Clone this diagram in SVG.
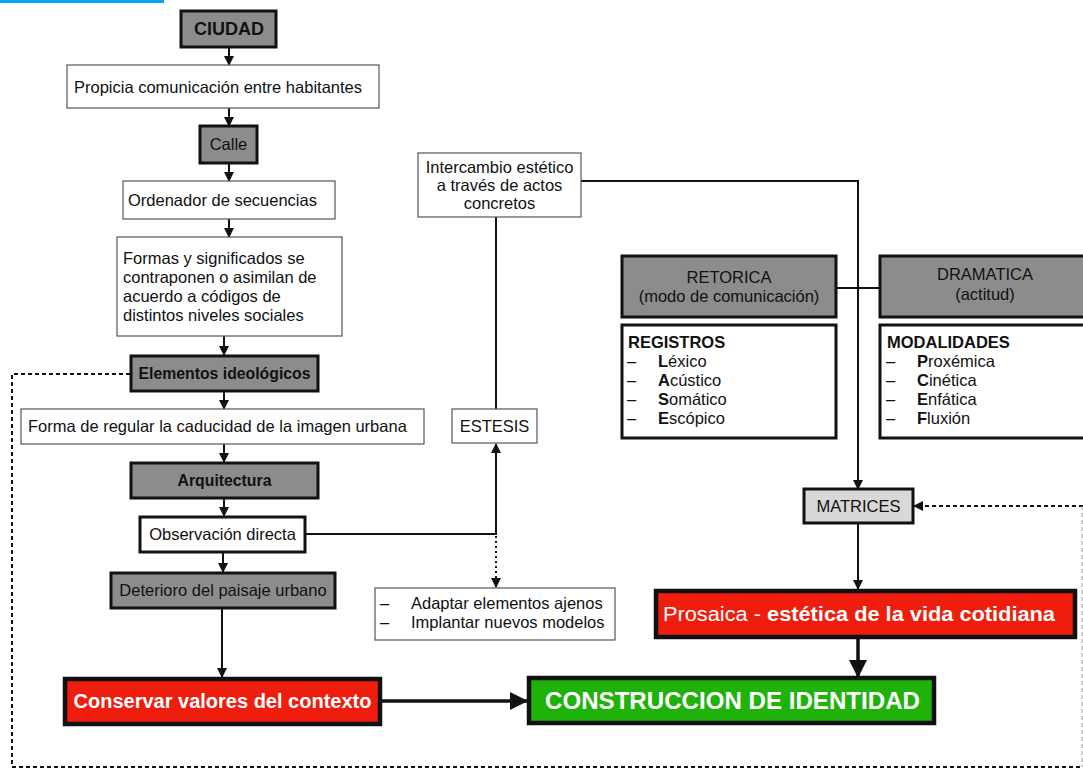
<svg xmlns="http://www.w3.org/2000/svg" width="1083" height="769" viewBox="0 0 1083 769">
<style>
text{font-family:"Liberation Sans",Arial,sans-serif;fill:#111}
.t{font-size:16.5px}
.m{font-size:16.5px}
.bl{font-size:15.8px;font-weight:bold}
.b{font-weight:bold}
.c{text-anchor:middle}
.w{fill:#fff}
.thin{fill:#fff;stroke:#555;stroke-width:1.2}
.gray{fill:#8c8c8c;stroke:#111;stroke-width:3}
.wk{fill:#fff;stroke:#111;stroke-width:3}
.red{fill:#ee1d0e;stroke:#111;stroke-width:4.5}
.grn{fill:#1fb20b;stroke:#111;stroke-width:4.5}
.ln{fill:none;stroke:#111;stroke-width:2}
.thk{fill:none;stroke:#111;stroke-width:3.5}
.dash{fill:none;stroke:#111;stroke-width:2;stroke-dasharray:4 3}
.dot{fill:none;stroke:#111;stroke-width:2;stroke-dasharray:2 3}
.lite{fill:none;stroke:#999;stroke-width:1;stroke-dasharray:4 3}
</style>
<defs>
<marker id="a" markerWidth="10" markerHeight="10" refX="9" refY="5" orient="auto" markerUnits="userSpaceOnUse"><path d="M0,0 L10,5 L0,10 Z" fill="#111"/></marker>
<marker id="A" markerWidth="18" markerHeight="18" refX="17" refY="9" orient="auto" markerUnits="userSpaceOnUse"><path d="M0,0 L18,9 L0,18 Z" fill="#111"/></marker>
</defs>
<rect x="0" y="0" width="164" height="3" fill="#0aa2f2"/>
<g id="connectors">
<path class="ln" d="M229,48 V65" marker-end="url(#a)"/>
<path class="ln" d="M229,108 V126" marker-end="url(#a)"/>
<path class="ln" d="M229,163 V181" marker-end="url(#a)"/>
<path class="ln" d="M229,219 V237" marker-end="url(#a)"/>
<path class="ln" d="M224,336 V355" marker-end="url(#a)"/>
<path class="ln" d="M224,391 V409" marker-end="url(#a)"/>
<path class="ln" d="M224,444 V462" marker-end="url(#a)"/>
<path class="ln" d="M224,498 V516" marker-end="url(#a)"/>
<path class="ln" d="M223,552 V572" marker-end="url(#a)"/>
<path class="ln" d="M222,608 V677" marker-end="url(#a)"/>
<path class="ln" d="M305,534 H496 V444" marker-end="url(#a)"/>
<path class="ln" d="M496,217 V409"/>
<path class="dot" d="M496,536 V587" marker-end="url(#a)"/>
<path class="ln" d="M581,181 H858 V489" marker-end="url(#a)"/>
<path class="ln" d="M836,288 H880"/>
<path class="ln" d="M858,523 V589" marker-end="url(#a)"/>
<path class="dash" d="M1083,506 H914" marker-end="url(#a)"/>
<path class="thk" d="M858,638 V677" marker-end="url(#A)"/>
<path class="thk" d="M381,701 H527" marker-end="url(#A)"/>
<path class="dash" d="M130,374 H12 V767 H1083"/>
<path class="lite" d="M1082,506 V767"/>
</g>
<g id="ciudad"><rect class="gray" x="181" y="11" width="95" height="36"/><text class="b c" x="229" y="35" style="font-size:18px">CIUDAD</text></g>
<g id="propicia"><rect class="thin" x="67" y="65" width="312" height="43"/><text class="t" x="74" y="93">Propicia comunicación entre habitantes</text></g>
<g id="calle"><rect class="gray" x="200" y="126" width="57" height="37"/><text class="t c" x="228.5" y="150">Calle</text></g>
<g id="ordenador"><rect class="thin" x="123" y="181" width="212" height="38"/><text class="t" x="128" y="206">Ordenador de secuencias</text></g>
<g id="formas"><rect class="thin" x="117" y="237" width="225" height="99"/><text class="t" x="123" y="264">Formas y significados se</text><text class="t" x="123" y="283">contraponen o asimilan de</text><text class="t" x="123" y="302">acuerdo a códigos de</text><text class="t" x="123" y="321">distintos niveles sociales</text></g>
<g id="elementos"><rect class="gray" x="131" y="356" width="187" height="35"/><text class="bl c" x="224.5" y="379">Elementos ideológicos</text></g>
<g id="forma"><rect class="thin" x="21" y="409" width="403" height="35"/><text class="t" x="28" y="432">Forma de regular la caducidad de la imagen urbana</text></g>
<g id="arquitectura"><rect class="gray" x="131" y="463" width="187" height="35"/><text class="bl c" x="224.5" y="486">Arquitectura</text></g>
<g id="observacion"><rect class="wk" x="140" y="517" width="165" height="35"/><text class="t c" x="222.5" y="540">Observación directa</text></g>
<g id="deterioro"><rect class="gray" x="111" y="573" width="224" height="35"/><text class="t c" x="223" y="596">Deterioro del paisaje urbano</text></g>
<g id="conservar"><rect class="red" x="65" y="679" width="315" height="45"/><text class="b c w" x="222.5" y="708" style="font-size:20px">Conservar valores del contexto</text></g>
<g id="intercambio"><rect class="thin" x="418" y="153" width="163" height="64"/><text class="m c" x="499.5" y="173">Intercambio estético</text><text class="m c" x="499.5" y="191">a través de actos</text><text class="m c" x="499.5" y="209">concretos</text></g>
<g id="estesis"><rect class="thin" x="452" y="409" width="85" height="34"/><text class="t c" x="494.5" y="432">ESTESIS</text></g>
<g id="adaptar"><rect class="thin" x="375" y="588" width="240" height="52"/><text class="m" x="380" y="609">–</text><text class="m" x="411" y="609">Adaptar elementos ajenos</text><text class="m" x="380" y="628">–</text><text class="m" x="411" y="628">Implantar nuevos modelos</text></g>
<g id="retorica"><rect class="gray" x="622" y="256" width="214" height="61"/><text class="m c" x="729" y="283">RETORICA</text><text class="m c" x="729" y="302">(modo de comunicación)</text></g>
<g id="registros"><rect class="wk" x="622" y="325" width="214" height="113"/><text class="m b" x="628" y="348">REGISTROS</text>
<text class="m" x="627" y="367">–</text><text class="m" x="658" y="367"><tspan class="b">L</tspan>éxico</text>
<text class="m" x="627" y="386">–</text><text class="m" x="658" y="386"><tspan class="b">A</tspan>cústico</text>
<text class="m" x="627" y="405">–</text><text class="m" x="658" y="405"><tspan class="b">S</tspan>omático</text>
<text class="m" x="627" y="424">–</text><text class="m" x="658" y="424"><tspan class="b">E</tspan>scópico</text></g>
<g id="dramatica"><rect class="gray" x="880" y="256" width="215" height="61"/><text class="m c" x="985" y="280">DRAMATICA</text><text class="m c" x="985" y="300">(actitud)</text></g>
<g id="modalidades"><rect class="wk" x="880" y="325" width="215" height="113"/><text class="m b" x="887" y="348">MODALIDADES</text>
<text class="m" x="886" y="367">–</text><text class="m" x="917" y="367"><tspan class="b">P</tspan>roxémica</text>
<text class="m" x="886" y="386">–</text><text class="m" x="917" y="386"><tspan class="b">C</tspan>inética</text>
<text class="m" x="886" y="405">–</text><text class="m" x="917" y="405"><tspan class="b">E</tspan>nfática</text>
<text class="m" x="886" y="424">–</text><text class="m" x="917" y="424"><tspan class="b">F</tspan>luxión</text></g>
<g id="matrices"><rect x="804" y="489" width="109" height="34" fill="#d8d8d8" stroke="#111" stroke-width="3"/><text class="t c" x="858.5" y="512">MATRICES</text></g>
<g id="prosaica"><rect class="red" x="656" y="591" width="419" height="46"/><text class="w" x="663" y="621" style="font-size:20px" textLength="392" lengthAdjust="spacingAndGlyphs">Prosaica - <tspan class="b w">estética de la vida cotidiana</tspan></text></g>
<g id="construccion"><rect class="grn" x="529" y="678" width="405" height="45"/><text class="b w" x="545" y="709" style="font-size:23px" textLength="375" lengthAdjust="spacingAndGlyphs">CONSTRUCCION DE IDENTIDAD</text></g>
</svg>
